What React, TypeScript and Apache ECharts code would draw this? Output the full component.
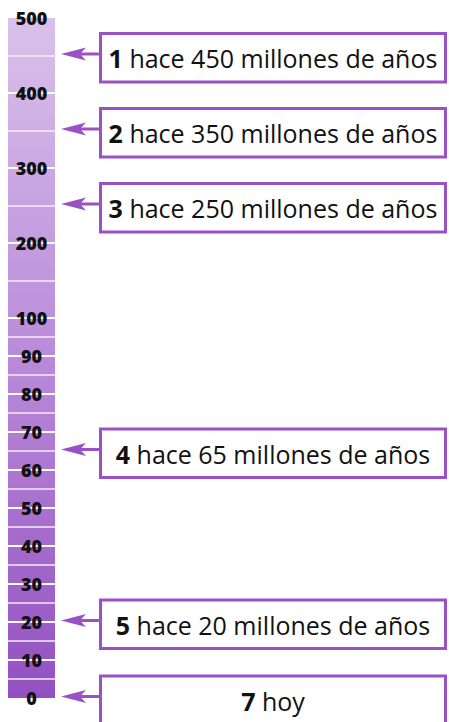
import React, { useEffect, useRef } from "react";
import * as echarts from "echarts";

// Data
const tickLabels = [0, 10, 20, 30, 40, 50, 60, 70, 80, 90, 100, 200, 300, 400, 500];
const minorLines = [5, 15, 25, 35, 45, 55, 65, 75, 85, 95, 150, 250, 350, 450];
const majorLines = [10, 20, 30, 40, 50, 60, 70, 80, 90, 100, 200, 300, 400];
const eventAges = [450, 350, 250, 65, 20, 0];
const eventNumbers = ["1", "2", "3", "4", "5", "7"];
const eventTexts = [
  "hace 450 millones de años",
  "hace 350 millones de años",
  "hace 250 millones de años",
  "hace 65 millones de años",
  "hace 20 millones de años",
  "hoy",
];
const scaleTop = 500;

// piecewise scale: 0-100 stretched, 100-500 compressed
const LOW = 3.8;
const HIGH = 0.75;
const t = (v: number) => (v <= 100 ? v * LOW : 100 * LOW + (v - 100) * HIGH);

const PURPLE = "#9852c6";
const FONT = "'Open Sans', 'Noto Sans', sans-serif";

export default function App() {
  const ref = useRef<HTMLDivElement>(null);
  useEffect(() => {
    if (!ref.current) return;
    const chart = echarts.init(ref.current, undefined, { renderer: "svg" });
    const option: any = {
      animation: false,
      grid: { left: 8, top: 18, width: 47, height: 680 },
      xAxis: {
        type: "category",
        data: ["escala"],
        show: false,
      },
      yAxis: {
        type: "value",
        min: 0,
        max: t(scaleTop),
        show: false,
      },
      series: [
        {
          type: "bar",
          data: [t(scaleTop)],
          barWidth: "100%",
          itemStyle: {
            color: new echarts.graphic.LinearGradient(0, 0, 0, 1, [
              { offset: 0, color: "#d9c1ea" },
              { offset: 0.5, color: "#b98ad9" },
              { offset: 1, color: "#9350c1" },
            ]),
          },
          markLine: {
            silent: true,
            symbol: "none",
            z: 2,
            label: { show: false },
            data: [
              ...minorLines.map((v) => ({ yAxis: t(v), lineStyle: { color: "#f4ecf9", width: 1.5, type: "solid" } })),
              ...majorLines.map((v) => ({ yAxis: t(v), lineStyle: { color: "#ffffff", width: 2, type: "solid" } })),
            ],
          },
          z: 1,
        },
        {
          type: "custom",
          clip: false,
          silent: true,
          data: tickLabels.map((v) => [0, t(v), v]),
          renderItem: (params: any, api: any) => {
            const p = api.coord([0, api.value(1)]);
            return {
              type: "text",
              x: p[0],
              y: p[1],
              z2: 100,
              style: {
                text: String(api.value(2)),
                align: "center",
                verticalAlign: "middle",
                fontFamily: FONT,
                fontWeight: 800,
                fontSize: 18,
                fill: "#111",
              },
            };
          },
          z: 20,
        },
        {
          type: "custom",
          clip: false,
          data: eventAges.map((a, i) => [0, t(a), i]),
          renderItem: (params: any, api: any) => {
            const idx = api.value(2);
            const y = api.coord([0, api.value(1)])[1] - 1.5;
            return {
              type: "group",
              children: [
                {
                  type: "line",
                  shape: { x1: 78, y1: y, x2: 100, y2: y },
                  style: { stroke: PURPLE, lineWidth: 3 },
                },
                {
                  type: "polygon",
                  shape: { points: [[61, y], [86, y - 6.5], [80, y], [86, y + 6.5]] },
                  style: { fill: PURPLE },
                },
                {
                  type: "rect",
                  shape: { x: 100.5, y: y - 20.5, width: 345, height: 48.5 },
                  style: { fill: "#fff", stroke: PURPLE, lineWidth: 3 },
                },
                {
                  type: "text",
                  x: 273,
                  y: y + 4,
                  style: {
                    text: `{b|${eventNumbers[idx]}\u00a0}{r|${eventTexts[idx]}}`,
                    align: "center",
                    verticalAlign: "middle",
                    rich: {
                      b: { fontFamily: FONT, fontSize: 25, fontWeight: "bold", fill: "#111" },
                      r: { fontFamily: FONT, fontSize: 25, fill: "#111" },
                    },
                  },
                },
              ],
            };
          },
          z: 5,
        },
      ],
    };
    chart.setOption(option);
    return () => chart.dispose();
  }, []);
  return (
    <div
      ref={ref}
      style={{ position: "fixed", left: 0, top: 0, width: 449, height: 722, background: "#fff" }}
    />
  );
}
